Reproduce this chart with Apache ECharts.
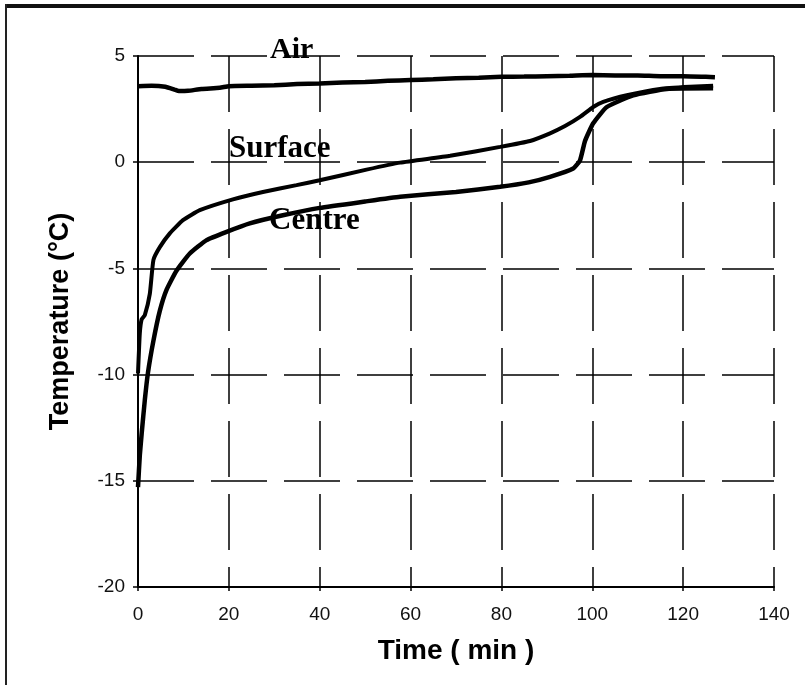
<!DOCTYPE html>
<html>
<head>
<meta charset="utf-8">
<script src="https://cdn.jsdelivr.net/npm/echarts@6/dist/echarts.min.js"></script>
<style>
html,body{margin:0;padding:0;background:#fff;}
#chart{width:805px;height:685px;}
</style>
</head>
<body>
<div id="chart"></div>
<script>
// Time (min) and temperature (°C) readings
const airTime = [0, 3, 6, 8, 9, 11, 14, 18, 20, 25, 30, 35, 40, 45, 50, 55, 60, 65, 70, 75, 80, 85, 90, 95, 100, 105, 110, 115, 120, 125, 127];
const airTemp = [3.58, 3.6, 3.55, 3.42, 3.35, 3.36, 3.45, 3.5, 3.58, 3.6, 3.62, 3.68, 3.7, 3.75, 3.78, 3.83, 3.87, 3.9, 3.95, 3.98, 4.02, 4.03, 4.05, 4.07, 4.1, 4.08, 4.08, 4.05, 4.05, 4.02, 4.0];

const surfaceTime = [0, 0.4, 0.8, 1.5, 2.6, 3.4, 4.8, 7.0, 9.9, 13.6, 20.9, 27.5, 34.9, 40, 50.3, 57.7, 68.7, 79.7, 86.3, 90.7, 94, 97.3, 100.2, 102.4, 107.6, 114.9, 121.5, 126.6];
const surfaceTemp = [-9.95, -8.05, -7.4, -7.2, -6.2, -4.6, -4.0, -3.35, -2.73, -2.26, -1.75, -1.4, -1.08, -0.85, -0.35, -0.02, 0.3, 0.72, 1.0, 1.36, 1.7, 2.13, 2.6, 2.84, 3.15, 3.45, 3.55, 3.6];

const centreTime = [0, 0.4, 0.8, 1.5, 2.2, 3.4, 4.8, 6.3, 8.5, 11.4, 15.1, 19.5, 24.6, 31.9, 40, 50, 57.7, 70, 79.7, 86, 90.7, 95.8, 97.3, 98.4, 100.2, 103.2, 109, 116.4, 126.6];
const centreTemp = [-15.3, -13.8, -12.8, -11.2, -9.9, -8.4, -7.0, -6.0, -5.1, -4.3, -3.67, -3.28, -2.88, -2.5, -2.15, -1.85, -1.63, -1.4, -1.16, -0.95, -0.69, -0.3, 0.09, 1.0, 1.83, 2.6, 3.15, 3.45, 3.48];

const xTicks = [0, 20, 40, 60, 80, 100, 120, 140];
const yTicks = [-20, -15, -10, -5, 0, 5];

function pairs(t, v) { return t.map((x, i) => [x, v[i]]); }

const chart = echarts.init(document.getElementById('chart'), null, {renderer: 'canvas'});
const gridStyle = {color: '#000', width: 1.5, type: [56, 17]};
const lineSeries = (name, t, v, w) => ({
  name, type: 'line', data: pairs(t, v), showSymbol: false, smooth: 0.15,
  lineStyle: {color: '#000', width: w}, itemStyle: {color: '#000'}, z: 5
});

chart.setOption({
  animation: false,
  backgroundColor: '#fff',
  grid: {left: 138, right: 31, top: 56, bottom: 98},
  xAxis: {
    type: 'value', min: xTicks[0], max: xTicks[xTicks.length - 1], interval: 20,
    name: 'Time ( min )', nameLocation: 'middle', nameGap: 50,
    nameTextStyle: {fontFamily: 'Liberation Sans', fontWeight: 'bold', fontSize: 28, color: '#000'},
    axisLine: {onZero: false, lineStyle: {color: '#000', width: 2}},
    axisTick: {length: 4, lineStyle: {color: '#000', width: 1.5}},
    axisLabel: {fontFamily: 'Liberation Sans', fontSize: 19, color: '#111', margin: 18},
    splitLine: {show: true, lineStyle: gridStyle}
  },
  yAxis: {
    type: 'value', min: yTicks[0], max: yTicks[yTicks.length - 1], interval: 5,
    name: 'Temperature (°C)', nameLocation: 'middle', nameGap: 64, nameRotate: 90,
    nameTextStyle: {fontFamily: 'Liberation Sans', fontWeight: 'bold', fontSize: 27, color: '#000'},
    axisLine: {show: true, onZero: false, lineStyle: {color: '#000', width: 2}},
    axisTick: {show: true, length: 5, lineStyle: {color: '#000', width: 1.5}},
    axisLabel: {fontFamily: 'Liberation Sans', fontSize: 19, color: '#111', margin: 13},
    splitLine: {show: true, lineStyle: gridStyle}
  },
  series: [
    lineSeries('Air', airTime, airTemp, 4.5),
    lineSeries('Surface', surfaceTime, surfaceTemp, 4),
    lineSeries('Centre', centreTime, centreTemp, 4.5)
  ],
  graphic: [
    {type: 'rect', shape: {x: 5, y: 4, width: 800, height: 4}, style: {fill: '#111'}},
    {type: 'rect', shape: {x: 5, y: 4, width: 2, height: 681}, style: {fill: '#222'}},
    {type: 'text', left: 270, top: 35, z: 10, style: {text: 'Air', font: 'bold 30px "Liberation Serif"', fill: '#000'}},
    {type: 'text', left: 229, top: 133, z: 10, style: {text: 'Surface', font: 'bold 31px "Liberation Serif"', fill: '#000'}},
    {type: 'text', left: 269, top: 205, z: 10, style: {text: 'Centre', font: 'bold 31px "Liberation Serif"', fill: '#000'}}
  ]
});
</script>
</body>
</html>
